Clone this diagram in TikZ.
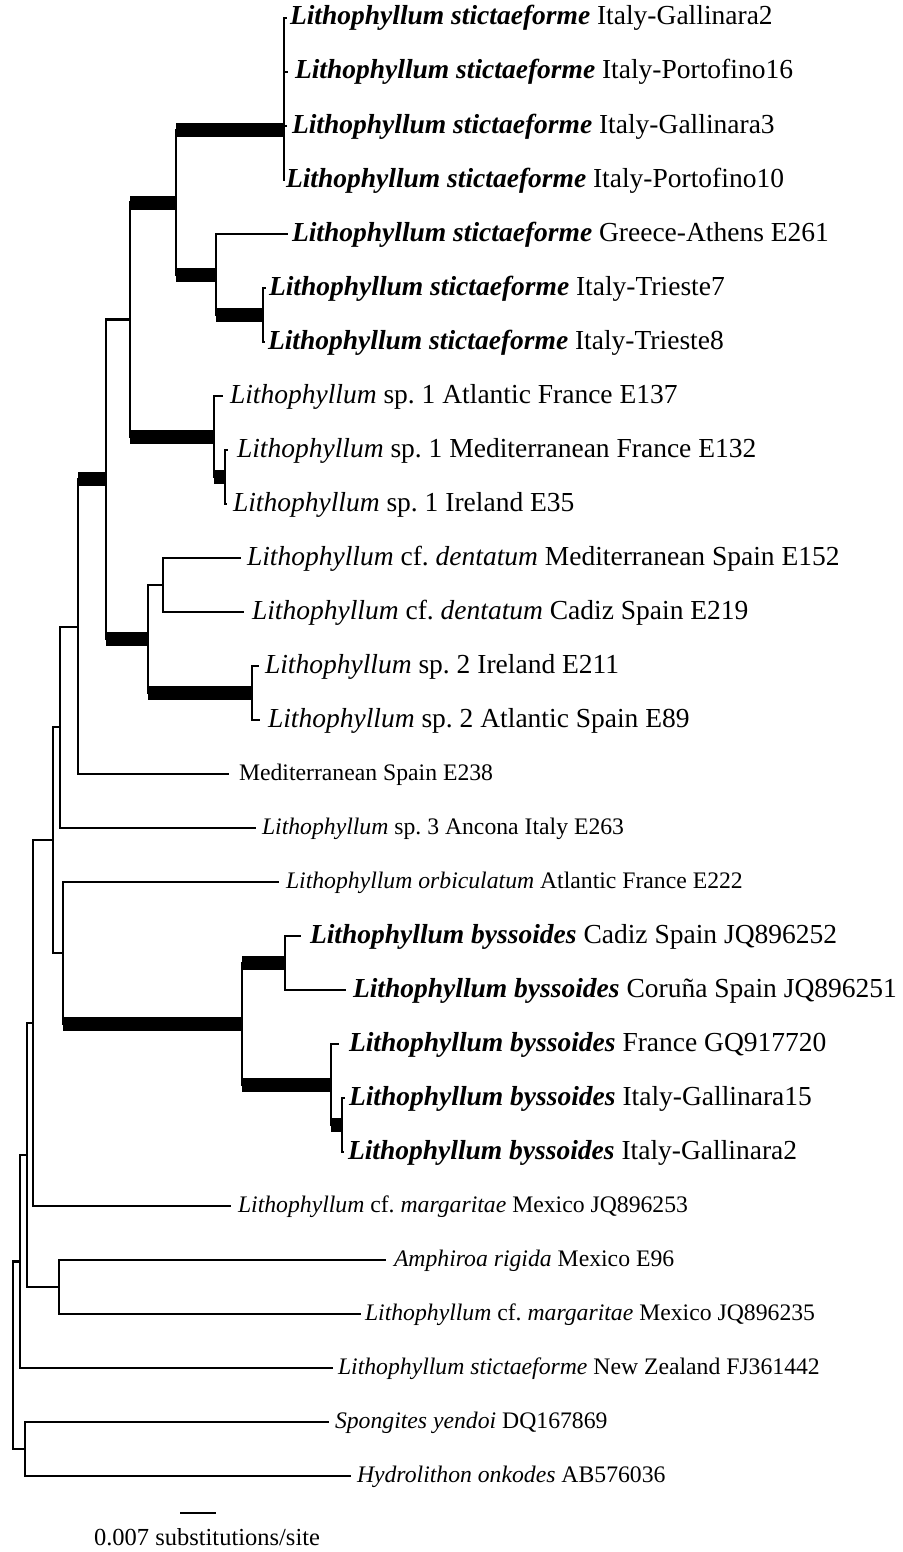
\documentclass[tikz,border=0pt]{standalone}
\usepackage{fontspec}
\setmainfont{Liberation Serif}
\frenchspacing
\newcommand{\bi}[1]{\textbf{\textit{#1}}}
\tikzset{
  br/.style={line width=2.2pt, line cap=rect},
  tbr/.style={line width=14pt, line cap=butt},
  big/.style={font=\fontsize{27.5}{30}\selectfont\frenchspacing},
  sml/.style={font=\fontsize{23.7}{26}\selectfont\frenchspacing},
  lbl/.style={anchor=base west, inner sep=0pt, outer sep=0pt},
}
\begin{document}
\begin{tikzpicture}[x=1pt,y=-1pt]
\useasboundingbox (0,0) rectangle (902,1552);
% internal nodes
\coordinate (A) at (284,130);
\coordinate (D) at (263,315);
\coordinate (C) at (216,274.5);
\coordinate (B) at (176,202.5);
\coordinate (L) at (225,477);
\coordinate (K) at (214,436.5);
\coordinate (E) at (130,319.5);
\coordinate (I) at (163,585);
\coordinate (J) at (252,693);
\coordinate (H) at (148,639);
\coordinate (F) at (106,479.25);
\coordinate (G) at (78,626.6);
\coordinate (M) at (60,727.3);
\coordinate (Q) at (285,963);
\coordinate (S) at (342,1125);
\coordinate (R) at (331,1084.5);
\coordinate (P) at (242,1023.75);
\coordinate (O) at (63,952.9);
\coordinate (N) at (53,840.1);
\coordinate (U) at (33,1023.05);
\coordinate (V) at (59,1287);
\coordinate (T) at (27,1155);
\coordinate (W) at (20,1261.5);
\coordinate (Y) at (25,1449);
\coordinate (X) at (13,1355.25);
% leaf tips
\coordinate (t1) at (286,18);
\coordinate (t2) at (287,72);
\coordinate (t3) at (286,126);
\coordinate (t4) at (284,180);
\coordinate (t5) at (287,234);
\coordinate (t6) at (265,288);
\coordinate (t7) at (264,342);
\coordinate (t8) at (222,396);
\coordinate (t9) at (227,450);
\coordinate (t10) at (226,504);
\coordinate (t11) at (240,558);
\coordinate (t12) at (243,612);
\coordinate (t13) at (258,666);
\coordinate (t14) at (259,720);
\coordinate (t15) at (228,774);
\coordinate (t16) at (255,828);
\coordinate (t17) at (278,882);
\coordinate (t18) at (300,936);
\coordinate (t19) at (345,990);
\coordinate (t20) at (338,1044);
\coordinate (t21) at (344,1098);
\coordinate (t22) at (343,1152);
\coordinate (t23) at (230,1206);
\coordinate (t24) at (385,1260);
\coordinate (t25) at (360,1314);
\coordinate (t26) at (332,1368);
\coordinate (t27) at (328,1422);
\coordinate (t28) at (350,1476);

% vertical lines
\draw[br] (A |- t1) -- (A |- t4);
\draw[br] (D |- t6) -- (D |- t7);
\draw[br] (C |- t5) -- (C |- D);
\draw[br] (B |- A) -- (B |- C);
\draw[br] (L |- t9) -- (L |- t10);
\draw[br] (K |- t8) -- (K |- L);
\draw[br] (E |- B) -- (E |- K);
\draw[br] (I |- t11) -- (I |- t12);
\draw[br] (J |- t13) -- (J |- t14);
\draw[br] (H |- I) -- (H |- J);
\draw[br] (F |- E) -- (F |- H);
\draw[br] (G |- F) -- (G |- t15);
\draw[br] (M |- G) -- (M |- t16);
\draw[br] (Q |- t18) -- (Q |- t19);
\draw[br] (S |- t21) -- (S |- t22);
\draw[br] (R |- t20) -- (R |- S);
\draw[br] (P |- Q) -- (P |- R);
\draw[br] (O |- t17) -- (O |- P);
\draw[br] (N |- M) -- (N |- O);
\draw[br] (U |- N) -- (U |- t23);
\draw[br] (V |- t24) -- (V |- t25);
\draw[br] (T |- U) -- (T |- V);
\draw[br] (W |- T) -- (W |- t26);
\draw[br] (Y |- t27) -- (Y |- t28);
\draw[br] (X |- W) -- (X |- Y);

% thin internal branches
\draw[br] (F |- E) -- (E);
\draw[br] (H |- I) -- (I);
\draw[br] (M |- G) -- (G);
\draw[br] (N |- M) -- (M);
\draw[br] (N |- O) -- (O);
\draw[br] (U |- N) -- (N);
\draw[br] (T |- U) -- (U);
\draw[br] (T |- V) -- (V);
\draw[br] (W |- T) -- (T);
\draw[br] (X |- W) -- (W);
\draw[br] (X |- Y) -- (Y);

% thick (supported) branches
\draw[tbr] (B |- A) -- (A);
\draw[tbr] (C |- D) -- (D);
\draw[tbr] (B |- C) -- (C);
\draw[tbr] (E |- B) -- (B);
\draw[tbr] (E |- K) -- (K);
\draw[tbr] (K |- L) -- (L);
\draw[tbr] (F |- H) -- (H);
\draw[tbr] (H |- J) -- (J);
\draw[tbr] (G |- F) -- (F);
\draw[tbr] (O |- P) -- (P);
\draw[tbr] (P |- Q) -- (Q);
\draw[tbr] (P |- R) -- (R);
\draw[tbr] (R |- S) -- (S);

% leaf branches
\draw[br] (A |- t1) -- (t1);
\draw[br] (A |- t2) -- (t2);
\draw[br] (A |- t3) -- (t3);
\draw[br] (C |- t5) -- (t5);
\draw[br] (D |- t6) -- (t6);
\draw[br] (D |- t7) -- (t7);
\draw[br] (K |- t8) -- (t8);
\draw[br] (L |- t9) -- (t9);
\draw[br] (L |- t10) -- (t10);
\draw[br] (I |- t11) -- (t11);
\draw[br] (I |- t12) -- (t12);
\draw[br] (J |- t13) -- (t13);
\draw[br] (J |- t14) -- (t14);
\draw[br] (G |- t15) -- (t15);
\draw[br] (M |- t16) -- (t16);
\draw[br] (O |- t17) -- (t17);
\draw[br] (Q |- t18) -- (t18);
\draw[br] (Q |- t19) -- (t19);
\draw[br] (R |- t20) -- (t20);
\draw[br] (S |- t21) -- (t21);
\draw[br] (S |- t22) -- (t22);
\draw[br] (U |- t23) -- (t23);
\draw[br] (V |- t24) -- (t24);
\draw[br] (V |- t25) -- (t25);
\draw[br] (W |- t26) -- (t26);
\draw[br] (Y |- t27) -- (t27);
\draw[br] (Y |- t28) -- (t28);

% labels
\node[lbl,big] (n1) at ([xshift=4pt,yshift=-7pt]t1) {\bi{Lithophyllum stictaeforme} Italy-Gallinara2};
\node[lbl,big] (n2) at ([xshift=8pt,yshift=-7pt]t2) {\bi{Lithophyllum stictaeforme} Italy-Portofino16};
\node[lbl,big] (n3) at ([xshift=6pt,yshift=-7pt]t3) {\bi{Lithophyllum stictaeforme} Italy-Gallinara3};
\node[lbl,big] (n4) at ([xshift=2pt,yshift=-7pt]t4) {\bi{Lithophyllum stictaeforme} Italy-Portofino10};
\node[lbl,big] (n5) at ([xshift=5pt,yshift=-7pt]t5) {\bi{Lithophyllum stictaeforme} Greece-Athens E261};
\node[lbl,big] (n6) at ([xshift=4pt,yshift=-7pt]t6) {\bi{Lithophyllum stictaeforme} Italy-Trieste7};
\node[lbl,big] (n7) at ([xshift=4pt,yshift=-7pt]t7) {\bi{Lithophyllum stictaeforme} Italy-Trieste8};
\node[lbl,big] (n8) at ([xshift=8pt,yshift=-7pt]t8) {\textit{Lithophyllum} sp. 1 Atlantic France E137};
\node[lbl,big] (n9) at ([xshift=10pt,yshift=-7pt]t9) {\textit{Lithophyllum} sp. 1 Mediterranean France E132};
\node[lbl,big] (n10) at ([xshift=7pt,yshift=-7pt]t10) {\textit{Lithophyllum} sp. 1 Ireland E35};
\node[lbl,big] (n11) at ([xshift=7pt,yshift=-7pt]t11) {\textit{Lithophyllum} cf. \textit{dentatum} Mediterranean Spain E152};
\node[lbl,big] (n12) at ([xshift=9pt,yshift=-7pt]t12) {\textit{Lithophyllum} cf. \textit{dentatum} Cadiz Spain E219};
\node[lbl,big] (n13) at ([xshift=7pt,yshift=-7pt]t13) {\textit{Lithophyllum} sp. 2 Ireland E211};
\node[lbl,big] (n14) at ([xshift=9pt,yshift=-7pt]t14) {\textit{Lithophyllum} sp. 2 Atlantic Spain E89};
\node[lbl,sml] (n15) at ([xshift=11pt,yshift=-6pt]t15) {Mediterranean Spain E238};
\node[lbl,sml] (n16) at ([xshift=7pt,yshift=-6pt]t16) {\textit{Lithophyllum} sp. 3 Ancona Italy E263};
\node[lbl,sml] (n17) at ([xshift=8pt,yshift=-6pt]t17) {\textit{Lithophyllum orbiculatum} Atlantic France E222};
\node[lbl,big] (n18) at ([xshift=10pt,yshift=-7pt]t18) {\bi{Lithophyllum byssoides} Cadiz Spain JQ896252};
\node[lbl,big] (n19) at ([xshift=8pt,yshift=-7pt]t19) {\bi{Lithophyllum byssoides} Coruña Spain JQ896251};
\node[lbl,big] (n20) at ([xshift=11pt,yshift=-7pt]t20) {\bi{Lithophyllum byssoides} France GQ917720};
\node[lbl,big] (n21) at ([xshift=5pt,yshift=-7pt]t21) {\bi{Lithophyllum byssoides} Italy-Gallinara15};
\node[lbl,big] (n22) at ([xshift=5pt,yshift=-7pt]t22) {\bi{Lithophyllum byssoides} Italy-Gallinara2};
\node[lbl,sml] (n23) at ([xshift=8pt,yshift=-6pt]t23) {\textit{Lithophyllum} cf. \textit{margaritae} Mexico JQ896253};
\node[lbl,sml] (n24) at ([xshift=9pt,yshift=-6pt]t24) {\textit{Amphiroa rigida} Mexico E96};
\node[lbl,sml] (n25) at ([xshift=5pt,yshift=-6pt]t25) {\textit{Lithophyllum} cf. \textit{margaritae} Mexico JQ896235};
\node[lbl,sml] (n26) at ([xshift=6pt,yshift=-6pt]t26) {\textit{Lithophyllum stictaeforme} New Zealand FJ361442};
\node[lbl,sml] (n27) at ([xshift=7pt,yshift=-6pt]t27) {\textit{Spongites yendoi} DQ167869};
\node[lbl,sml] (n28) at ([xshift=7pt,yshift=-6pt]t28) {\textit{Hydrolithon onkodes} AB576036};

% scale bar
\coordinate (sb1) at (180,1513);
\coordinate (sb2) at (216,1513);
\draw[line width=2.2pt] (sb1) -- (sb2);
\node[anchor=base, inner sep=0pt, font=\fontsize{24.5}{27}\selectfont] (sbl) at (207,1545) {0.007 substitutions/site};
\end{tikzpicture}
\end{document}
